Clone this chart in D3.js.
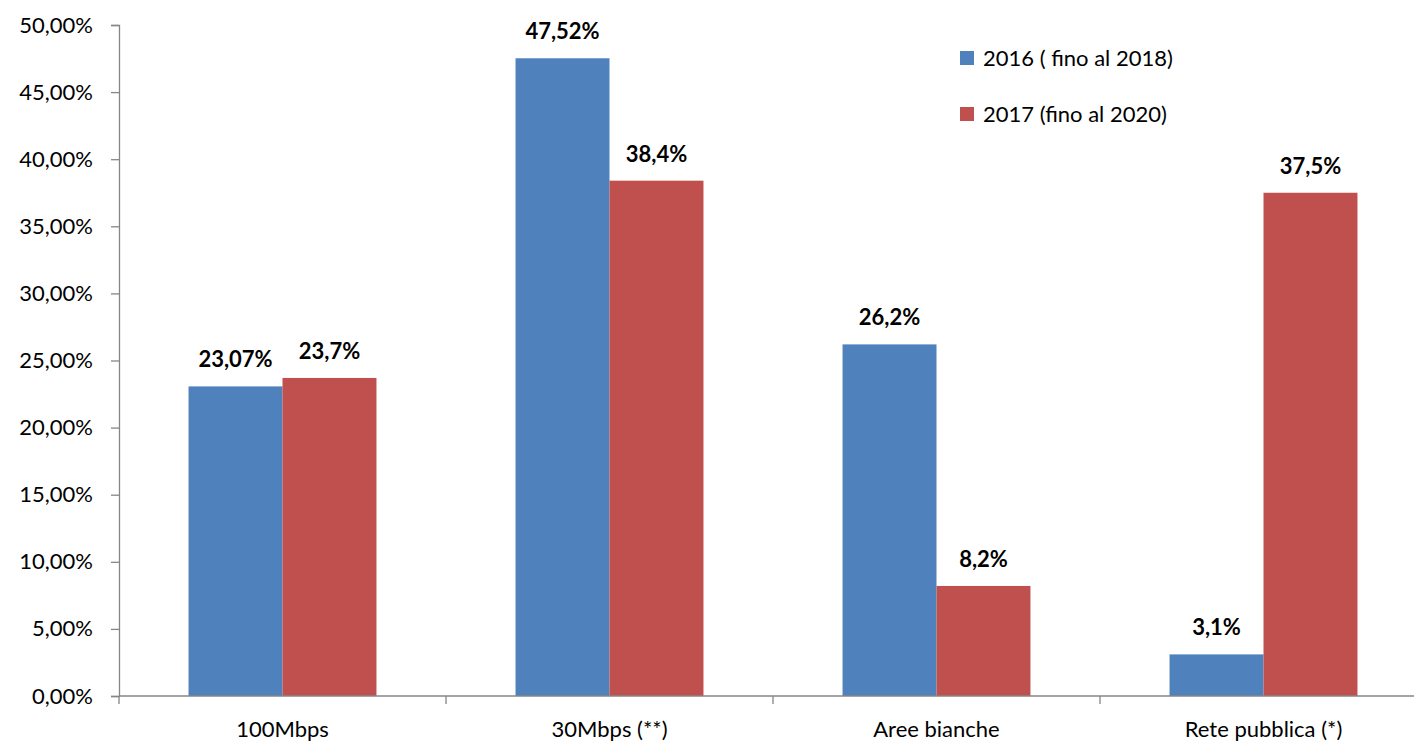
<!DOCTYPE html>
<html>
<head>
<meta charset="utf-8">
<script src="https://cdn.jsdelivr.net/npm/d3@7"></script>
<style>
  body { margin: 0; background: #fff; }
  svg { display: block; font-family: Lato, "Noto Sans", sans-serif; }
</style>
</head>
<body>
<div id="chart"></div>
<script>
const categories = ["100Mbps", "30Mbps (**)", "Aree bianche", "Rete pubblica (*)"];
const seriesNames = ["2016 ( fino al 2018)", "2017 (fino al 2020)"];
const values2016 = [23.07, 47.52, 26.2, 3.1];
const values2017 = [23.7, 38.4, 8.2, 37.5];
const labels2016 = ["23,07%", "47,52%", "26,2%", "3,1%"];
const labels2017 = ["23,7%", "38,4%", "8,2%", "37,5%"];
const yTicks = [0, 5, 10, 15, 20, 25, 30, 35, 40, 45, 50];
const colors = ["#4F81BD", "#C0504D"];

const width = 1414, height = 742;
const fontSize = 22;
const svg = d3.select("#chart").append("svg")
    .attr("width", width)
    .attr("height", height);

const x = d3.scaleBand().domain(categories).range([119, 1427]).paddingInner(0).paddingOuter(0);
const inner = d3.scaleBand().domain([0, 1]).range([0, x.bandwidth()]).paddingInner(0).paddingOuter(0.74);
const y = d3.scaleLinear().domain([0, 50]).range([696, 25]);

// y axis
const yAxis = svg.append("g")
    .attr("transform", "translate(119,0)")
    .call(d3.axisLeft(y).tickValues(yTicks).tickSize(8).tickPadding(18)
        .tickFormat(d => d.toFixed(2).replace(".", ",") + "%"));
yAxis.select(".domain").attr("stroke", "#868686").attr("stroke-width", 1.3);
yAxis.selectAll(".tick line").attr("stroke", "#868686").attr("stroke-width", 1.3);
yAxis.selectAll("text").attr("font-size", fontSize).attr("fill", "#000").attr("font-family", "Lato, 'Noto Sans', sans-serif");

const series = [values2016, values2017];
const labels = [labels2016, labels2017];

series.forEach((vals, s) => {
    svg.append("g").selectAll("rect")
        .data(categories)
        .join("rect")
        .attr("x", (d) => x(d) + inner(s))
        .attr("y", (d, i) => y(vals[i]))
        .attr("width", inner.bandwidth())
        .attr("height", (d, i) => y(0) - y(vals[i]))
        .attr("fill", colors[s]);
    svg.append("g").selectAll("text")
        .data(categories)
        .join("text")
        .attr("x", (d) => x(d) + inner(s) + inner.bandwidth() / 2)
        .attr("y", (d, i) => y(vals[i]) - 19)
        .attr("text-anchor", "middle")
        .attr("font-size", fontSize)
        .attr("font-weight", "bold")
        .text((d, i) => labels[s][i]);
});

// x axis
const xAxis = svg.append("g")
    .attr("transform", "translate(0,696)");
xAxis.append("line")
    .attr("x1", 119).attr("x2", 1427)
    .attr("stroke", "#868686").attr("stroke-width", 1.3);
xAxis.selectAll(".cat-tick")
    .data(d3.range(categories.length + 1))
    .join("line")
    .attr("x1", i => 119 + i * x.step())
    .attr("x2", i => 119 + i * x.step())
    .attr("y1", 0).attr("y2", 8)
    .attr("stroke", "#868686").attr("stroke-width", 1.3);
xAxis.selectAll(".cat-label")
    .data(categories)
    .join("text")
    .attr("x", d => x(d) + x.bandwidth() / 2)
    .attr("y", 41)
    .attr("text-anchor", "middle")
    .attr("font-size", fontSize)
    .text(d => d);

// legend
const legend = svg.append("g").attr("transform", "translate(960,51)");
seriesNames.forEach((name, s) => {
    const g = legend.append("g").attr("transform", `translate(0,${s * 56})`);
    g.append("rect").attr("width", 14).attr("height", 14).attr("fill", colors[s]);
    g.append("text").attr("x", 23).attr("y", 15).attr("font-size", fontSize).text(name);
});
</script>
</body>
</html>
